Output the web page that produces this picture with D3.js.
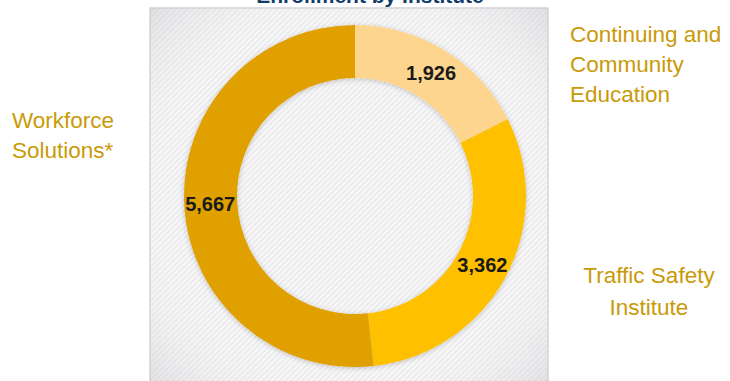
<!DOCTYPE html>
<html><head><meta charset="utf-8">
<script src="https://cdn.jsdelivr.net/npm/d3@7"></script>
<style>
html,body{margin:0;padding:0;background:#fff;}
svg{display:block;}
</style></head>
<body>
<svg id="chart" width="730" height="381"></svg>
<script>
const title = "Enrollment by Institute";
const categories = ["Continuing and Community Education", "Traffic Safety Institute", "Workforce Solutions*"];
const values = [1926, 3362, 5667];
const colors = ["#FDD58E", "#FFC000", "#E0A000"];
const labelLines = [
  ["Continuing and", "Community", "Education"],
  ["Traffic Safety", "Institute"],
  ["Workforce", "Solutions*"]
];

const svg = d3.select("#chart");
const defs = svg.append("defs");
const pat = defs.append("pattern").attr("id","hatch").attr("patternUnits","userSpaceOnUse")
  .attr("width",4).attr("height",4).attr("patternTransform","rotate(-45)");
pat.append("rect").attr("width",4).attr("height",4).attr("fill","#ebebee");
pat.append("rect").attr("width",4).attr("height",2).attr("fill","#f8f8f9");
const rg = defs.append("radialGradient").attr("id","vign").attr("cx","50%").attr("cy","50%").attr("r","70%");
rg.append("stop").attr("offset","60%").attr("stop-color","#fff").attr("stop-opacity",0);
rg.append("stop").attr("offset","100%").attr("stop-color","#c8c8cc").attr("stop-opacity",0.45);
const sh = defs.append("filter").attr("id","shadow").attr("x","-20%").attr("y","-20%").attr("width","140%").attr("height","140%");
sh.append("feDropShadow").attr("dx",0).attr("dy",1).attr("stdDeviation",2.5).attr("flood-color","#000").attr("flood-opacity",0.22);

// background panel
const box = {x:150, y:8, w:398, h:380};
svg.append("rect").attr("x",box.x).attr("y",box.y).attr("width",box.w).attr("height",box.h)
  .attr("fill","url(#hatch)").attr("stroke","#d4d4d6").attr("stroke-width",1.5);
svg.append("rect").attr("x",box.x).attr("y",box.y).attr("width",box.w).attr("height",box.h)
  .attr("fill","url(#vign)");

// title (cut off at the top)
svg.append("text").attr("x",370).attr("y",3).attr("text-anchor","middle")
  .attr("font-family","Liberation Sans, Arial, sans-serif").attr("font-weight","bold")
  .attr("font-size",21).attr("fill","#123d6a").text(title);

const cx = 355, cy = 196, rOuter = 171, rInner = 118;
const pie = d3.pie().sort(null).value(d => d)(values);
const arc = d3.arc().innerRadius(rInner).outerRadius(rOuter);
const labelArc = d3.arc().innerRadius(145).outerRadius(145);

const g = svg.append("g").attr("transform",`translate(${cx},${cy})`);
g.append("g").attr("filter","url(#shadow)").selectAll("path").data(pie).join("path")
  .attr("d",arc).attr("fill",(d,i)=>colors[i]);

g.selectAll("text.val").data(pie).join("text").attr("class","val")
  .attr("transform",d=>`translate(${labelArc.centroid(d)})`)
  .attr("text-anchor","middle").attr("dy","0.36em")
  .attr("font-family","Liberation Sans, Arial, sans-serif").attr("font-weight","bold")
  .attr("font-size",20).attr("fill","#1a1a1a")
  .text(d=>d3.format(",")(d.data));

// category labels
const labelPos = [
  {x:570, y:42, anchor:"start"},
  {x:649, y:283, anchor:"middle"},
  {x:12, y:128, anchor:"start"}
];
labelLines.forEach((lines,i)=>{
  const t = svg.append("text").attr("x",labelPos[i].x).attr("y",labelPos[i].y)
    .attr("text-anchor",labelPos[i].anchor)
    .attr("font-family","Liberation Sans, Arial, sans-serif")
    .attr("font-size",22.5).attr("fill","#C99A08");
  lines.forEach((l,j)=>{
    t.append("tspan").attr("x",labelPos[i].x).attr("dy", j===0?0:(i===1?32:30)).text(l);
  });
});
</script>
</body></html>
